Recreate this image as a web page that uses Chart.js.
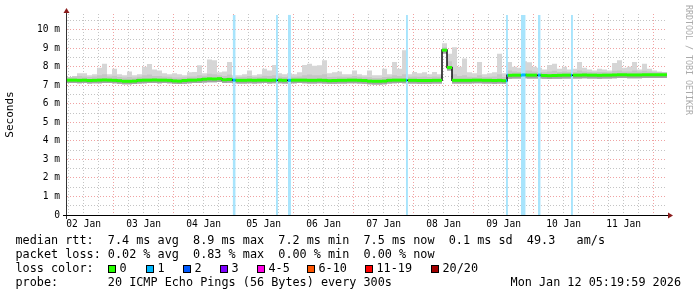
<!DOCTYPE html>
<html>
<head>
<meta charset="utf-8">
<script src="https://cdn.jsdelivr.net/npm/chart.js@4.4.1/dist/chart.umd.min.js"></script>
<style>
  body { margin: 0; background: #fff; }
</style>
</head>
<body>
<canvas id="myChart" width="697" height="297"></canvas>
<script>
// time axis: hours since 02 Jan 00:00, one bin = 2 hours
const T0 = 5 + 1 / 3;
const STEP = 2;
const dayLabels = ['02 Jan', '03 Jan', '04 Jan', '05 Jan', '06 Jan', '07 Jan', '08 Jan', '09 Jan', '10 Jan', '11 Jan'];
const yTickLabels = ['0', '1 m', '2 m', '3 m', '4 m', '5 m', '6 m', '7 m', '8 m', '9 m', '10 m'];

// median rtt per bin (ms)
const median = [
  7.28, 7.28, 7.27, 7.28, 7.26, 7.27, 7.28, 7.29, 7.28, 7.27,
  7.25, 7.22, 7.22, 7.23, 7.27, 7.28, 7.28, 7.29, 7.28, 7.28,
  7.27, 7.24, 7.23, 7.26, 7.28, 7.28, 7.30, 7.33, 7.35, 7.34,
  7.36, 7.30, 7.32, 7.28, 7.27, 7.27, 7.28, 7.27, 7.28, 7.28,
  7.27, 7.28, 7.28, 7.27, 7.27, 7.28, 7.28, 7.28, 7.27, 7.27,
  7.28, 7.27, 7.25, 7.26, 7.27, 7.27, 7.28, 7.28, 7.27, 7.26,
  7.23, 7.22, 7.22, 7.23, 7.27, 7.28, 7.28, 7.28, 7.27, 7.27,
  7.26, 7.26, 7.26, 7.27, 7.27, 8.90, 7.96, 7.27, 7.27, 7.27,
  7.27, 7.28, 7.28, 7.27, 7.27, 7.26, 7.27, 7.25, 7.54, 7.55,
  7.55, 7.56, 7.55, 7.55, 7.55, 7.53, 7.52, 7.53, 7.54, 7.55,
  7.55, 7.55, 7.55, 7.56, 7.55, 7.55, 7.54, 7.55, 7.55, 7.56,
  7.57, 7.57, 7.56, 7.56, 7.56, 7.57, 7.57, 7.57, 7.57, 7.57
];
// smoke: highest ping per bin
const smokeHi = [
  7.45, 7.50, 7.65, 7.65, 7.55, 7.60, 7.95, 8.17, 7.60, 7.90,
  7.60, 7.55, 7.75, 7.55, 7.60, 8.00, 8.15, 7.85, 7.80, 7.65,
  7.60, 7.65, 7.60, 7.55, 7.70, 7.72, 8.08, 7.65, 8.39, 8.35,
  7.70, 7.75, 8.26, 7.55, 7.55, 7.60, 7.80, 7.55, 7.60, 7.90,
  7.80, 8.10, 7.65, 7.60, 7.65, 7.60, 7.70, 8.10, 8.17, 8.05,
  8.08, 8.35, 7.65, 7.70, 7.75, 7.60, 7.60, 7.80, 7.60, 7.55,
  7.80, 7.55, 7.55, 7.90, 7.60, 8.26, 7.90, 8.89, 7.60, 7.72,
  7.65, 7.70, 7.60, 7.72, 7.60, 9.27, 8.70, 9.05, 8.00, 8.45,
  7.70, 7.65, 8.26, 7.60, 7.65, 7.70, 8.70, 7.65, 8.26, 8.00,
  7.95, 8.30, 8.25, 8.00, 7.95, 7.85, 8.10, 8.17, 7.90, 8.00,
  7.85, 7.90, 8.26, 7.95, 7.85, 7.80, 7.90, 7.85, 7.80, 8.20,
  8.35, 7.95, 8.00, 8.26, 7.85, 8.17, 7.90, 7.80, 7.75, 7.70
];
// smoke: upper middle pings per bin
const smokeMid = [
  7.45, 7.47, 7.50, 7.48, 7.45, 7.47, 7.55, 7.60, 7.48, 7.52,
  7.45, 7.42, 7.45, 7.42, 7.46, 7.55, 7.58, 7.50, 7.50, 7.47,
  7.46, 7.42, 7.42, 7.44, 7.48, 7.48, 7.55, 7.52, 7.62, 7.60,
  7.55, 7.50, 7.58, 7.45, 7.45, 7.46, 7.50, 7.45, 7.46, 7.52,
  7.50, 7.55, 7.47, 7.45, 7.47, 7.46, 7.48, 7.55, 7.58, 7.55,
  7.55, 7.60, 7.45, 7.46, 7.48, 7.46, 7.46, 7.50, 7.46, 7.44,
  7.44, 7.40, 7.40, 7.45, 7.46, 7.55, 7.50, 7.60, 7.46, 7.48,
  7.46, 7.47, 7.45, 7.47, 7.46, 9.05, 8.30, 7.60, 7.50, 7.55,
  7.46, 7.45, 7.55, 7.45, 7.46, 7.47, 7.60, 7.45, 7.80, 7.75,
  7.72, 7.80, 7.80, 7.75, 7.72, 7.70, 7.75, 7.78, 7.72, 7.74,
  7.72, 7.72, 7.80, 7.74, 7.72, 7.70, 7.72, 7.72, 7.70, 7.78,
  7.80, 7.75, 7.75, 7.80, 7.74, 7.78, 7.74, 7.72, 7.72, 7.70
];
// smoke: lowest ping per bin
const smokeLo = [
  7.12, 7.12, 7.11, 7.12, 7.10, 7.11, 7.11, 7.12, 7.12, 7.11,
  7.09, 7.06, 7.06, 7.07, 7.10, 7.11, 7.12, 7.12, 7.11, 7.12,
  7.11, 7.08, 7.07, 7.09, 7.11, 7.12, 7.13, 7.15, 7.17, 7.16,
  7.18, 7.13, 7.14, 7.11, 7.10, 7.10, 7.11, 7.10, 7.11, 7.12,
  7.10, 7.11, 7.11, 7.10, 7.10, 7.11, 7.12, 7.11, 7.10, 7.10,
  7.11, 7.10, 7.08, 7.09, 7.10, 7.10, 7.11, 7.11, 7.10, 7.09,
  7.06, 7.05, 7.05, 7.06, 7.10, 7.11, 7.12, 7.11, 7.10, 7.10,
  7.09, 7.09, 7.09, 7.10, 7.10, 8.72, 7.80, 7.10, 7.10, 7.10,
  7.10, 7.11, 7.11, 7.10, 7.10, 7.09, 7.10, 7.08, 7.36, 7.37,
  7.37, 7.38, 7.37, 7.37, 7.37, 7.35, 7.34, 7.35, 7.36, 7.37,
  7.37, 7.37, 7.37, 7.38, 7.37, 7.37, 7.36, 7.37, 7.37, 7.38,
  7.39, 7.39, 7.38, 7.38, 7.38, 7.39, 7.39, 7.39, 7.39, 7.39
];
// packet loss events (hours since 02 Jan 00:00) and pings lost
const lossStart = [71.6, 88.9, 93.7, 140.9, 180.9, 186.9, 193.7, 206.9];
const lossEnd = [72.8, 89.7, 94.9, 141.7, 181.7, 188.8, 194.8, 207.7];
const lossCount = [1, 1, 1, 1, 1, 1, 1, 1];

const lossLabels = ['0', '1', '2', '3', '4-5', '6-10', '11-19', '20/20'];
const lossColors = ['#26ff00', '#00b8ff', '#0059ff', '#7e00ff', '#ff00e4', '#ff5500', '#ff0000', '#a10000'];
const lossBg = '#a8e4fc';

const Y_MAX = 10.85;
const RED = 'rgba(225,70,70,0.5)';
const GREY = '#c4c4c4';
const MONO = '"DejaVu Sans Mono"';

// stepped series from bins: value i holds from tAt(i) to tAt(i+1)
const tAt = i => T0 + i * STEP;
function steps(arr) {
    const pts = arr.map((v, i) => ({ x: tAt(i), y: v }));
    pts.push({ x: tAt(arr.length), y: arr[arr.length - 1] });
    return pts;
}

// median line split by loss colour, horizontal pieces only
const medSeg = [];
median.forEach((v, i) => {
    const a = tAt(i), b = tAt(i + 1);
    const cuts = [a, b];
    lossStart.forEach((s, k) => {
        [s, lossEnd[k]].forEach(c => { if (c > a && c < b) cuts.push(c); });
    });
    cuts.sort((p, q) => p - q);
    for (let j = 0; j < cuts.length - 1; j++) {
        const m = (cuts[j] + cuts[j + 1]) / 2;
        const k = lossStart.findIndex((s, n) => m > s && m < lossEnd[n]);
        const col = k < 0 ? lossColors[0] : lossColors[lossCount[k]];
        medSeg.push({ x: cuts[j], y: v, c: col }, { x: cuts[j + 1], y: v, c: col }, { x: cuts[j + 1], y: null, c: col });
    }
});

// loss background bars
const lossBars = [];
lossStart.forEach((s, k) => {
    lossBars.push({ x: s, y: Y_MAX - 0.05 }, { x: lossEnd[k], y: Y_MAX - 0.05 }, { x: lossEnd[k], y: null });
});

const frame = {
    id: 'frame',
    afterDatasetsDraw(chart) {
        const c = chart.ctx;
        const a = chart.chartArea;
        c.save();
        c.fillStyle = '#333';
        c.fillRect(a.left - 1, a.top - 2, 1, a.bottom - a.top + 6);
        c.fillStyle = '#000';
        c.fillRect(a.left - 4, a.bottom, a.right - a.left + 6, 1);
        // arrows
        c.fillStyle = '#8b1c1c';
        c.beginPath();
        c.moveTo(a.left - 0.5, a.top - 6);
        c.lineTo(a.left - 3.5, a.top - 1);
        c.lineTo(a.left + 2.5, a.top - 1);
        c.fill();
        c.beginPath();
        c.moveTo(a.right + 6, a.bottom + 0.5);
        c.lineTo(a.right + 1, a.bottom - 2.5);
        c.lineTo(a.right + 1, a.bottom + 3.5);
        c.fill();
        c.restore();
    },
    afterDraw(chart) {
        const c = chart.ctx;
        c.save();
        // watermark
        c.translate(688, 5);
        c.rotate(Math.PI / 2);
        c.font = '8.3px ' + MONO;
        c.fillStyle = '#aaaaaa';
        c.textBaseline = 'middle';
        c.fillText('RRDTOOL / TOBI OETIKER', 0, 0);
        c.restore();

        c.save();
        c.font = '11.8px ' + MONO;
        c.fillStyle = '#000';
        c.textBaseline = 'alphabetic';
        c.fillText('median rtt:  7.4 ms avg  8.9 ms max  7.2 ms min  7.5 ms now  0.1 ms sd  49.3   am/s', 15.5, 244);
        c.fillText('packet loss: 0.02 % avg  0.83 % max  0.00 % min  0.00 % now', 15.5, 258);
        c.fillText('loss color:', 15.5, 272);
        const boxX = [108, 146, 183, 220, 257, 307, 365, 431];
        lossLabels.forEach((lab, i) => {
            c.fillStyle = lossColors[i];
            c.fillRect(boxX[i], 265, 8, 8);
            c.strokeStyle = '#000';
            c.lineWidth = 1;
            c.strokeRect(boxX[i] + 0.5, 265.5, 7, 7);
            c.fillStyle = '#000';
            c.fillText(lab, boxX[i] + 11.5, 272);
        });
        c.fillText('probe:       20 ICMP Echo Pings (56 Bytes) every 300s', 15.5, 286);
        c.textAlign = 'right';
        c.fillText('Mon Jan 12 05:19:59 2026', 681, 286);
        c.restore();
    }
};

const ctx = document.getElementById('myChart');
new Chart(ctx, {
    type: 'line',
    data: {
        datasets: [
            { data: steps(smokeLo), stepped: true, borderWidth: 0, fill: false, order: 7 },
            { data: steps(smokeHi), stepped: true, borderWidth: 0, fill: 0, backgroundColor: '#d6d6d6', order: 6 },
            { data: steps(smokeMid), stepped: true, borderWidth: 0, fill: 0, backgroundColor: '#c6c6c6', order: 5 },
            { data: steps(median), stepped: true, borderWidth: 0, fill: 0, backgroundColor: '#a4a4a4', order: 4 },
            { data: lossBars, borderWidth: 0, fill: 'origin', backgroundColor: lossBg, spanGaps: false, order: 3 },
            { data: steps(median), stepped: true, borderWidth: 1.5, borderColor: '#111', fill: false, order: 2 },
            {
                data: medSeg, borderWidth: 3, borderCapStyle: 'butt', fill: false, spanGaps: false, order: 1,
                borderColor: lossColors[0],
                segment: { borderColor: s => medSeg[s.p0DataIndex].c }
            }
        ]
    },
    options: {
        responsive: false,
        animation: false,
        devicePixelRatio: 1,
        layout: { padding: { left: 0, right: 30, top: 14, bottom: 0 } },
        elements: { point: { radius: 0 }, line: { tension: 0 } },
        plugins: {
            legend: { display: false },
            tooltip: { enabled: false }
        },
        scales: {
            x: {
                type: 'linear',
                min: T0,
                max: T0 + 240,
                afterBuildTicks: s => {
                    s.ticks = [];
                    for (let v = 6; v <= 240; v += 6) s.ticks.push({ value: v });
                },
                afterFit: s => { s.height = 82; },
                grid: {
                    drawTicks: false,
                    color: g => (g.tick && g.tick.value % 24 === 0 ? RED : GREY)
                },
                border: { display: false, dash: [1, 2] },
                ticks: {
                    autoSkip: false,
                    maxRotation: 0,
                    padding: 4,
                    color: '#000',
                    font: { family: MONO, size: 9.6 },
                    callback: v => ((v - 12) % 24 === 0 ? dayLabels[(v - 12) / 24] : '')
                }
            },
            y: {
                min: 0,
                max: Y_MAX,
                afterBuildTicks: s => {
                    s.ticks = [];
                    for (let i = 0; i <= 21; i++) s.ticks.push({ value: i / 2 });
                },
                afterFit: s => { s.width = 67; },
                grid: {
                    drawTicks: false,
                    color: g => (g.tick && Number.isInteger(g.tick.value) ? RED : GREY)
                },
                border: { display: false, dash: [1, 2] },
                title: {
                    display: true,
                    text: 'Seconds',
                    color: '#000',
                    font: { family: MONO, size: 11 },
                    padding: { top: 4, bottom: 0 }
                },
                ticks: {
                    autoSkip: false,
                    padding: 7,
                    color: '#000',
                    font: { family: MONO, size: 9.6 },
                    callback: v => (Number.isInteger(v) ? yTickLabels[v] : '')
                }
            }
        }
    },
    plugins: [frame]
});
</script>
</body>
</html>
